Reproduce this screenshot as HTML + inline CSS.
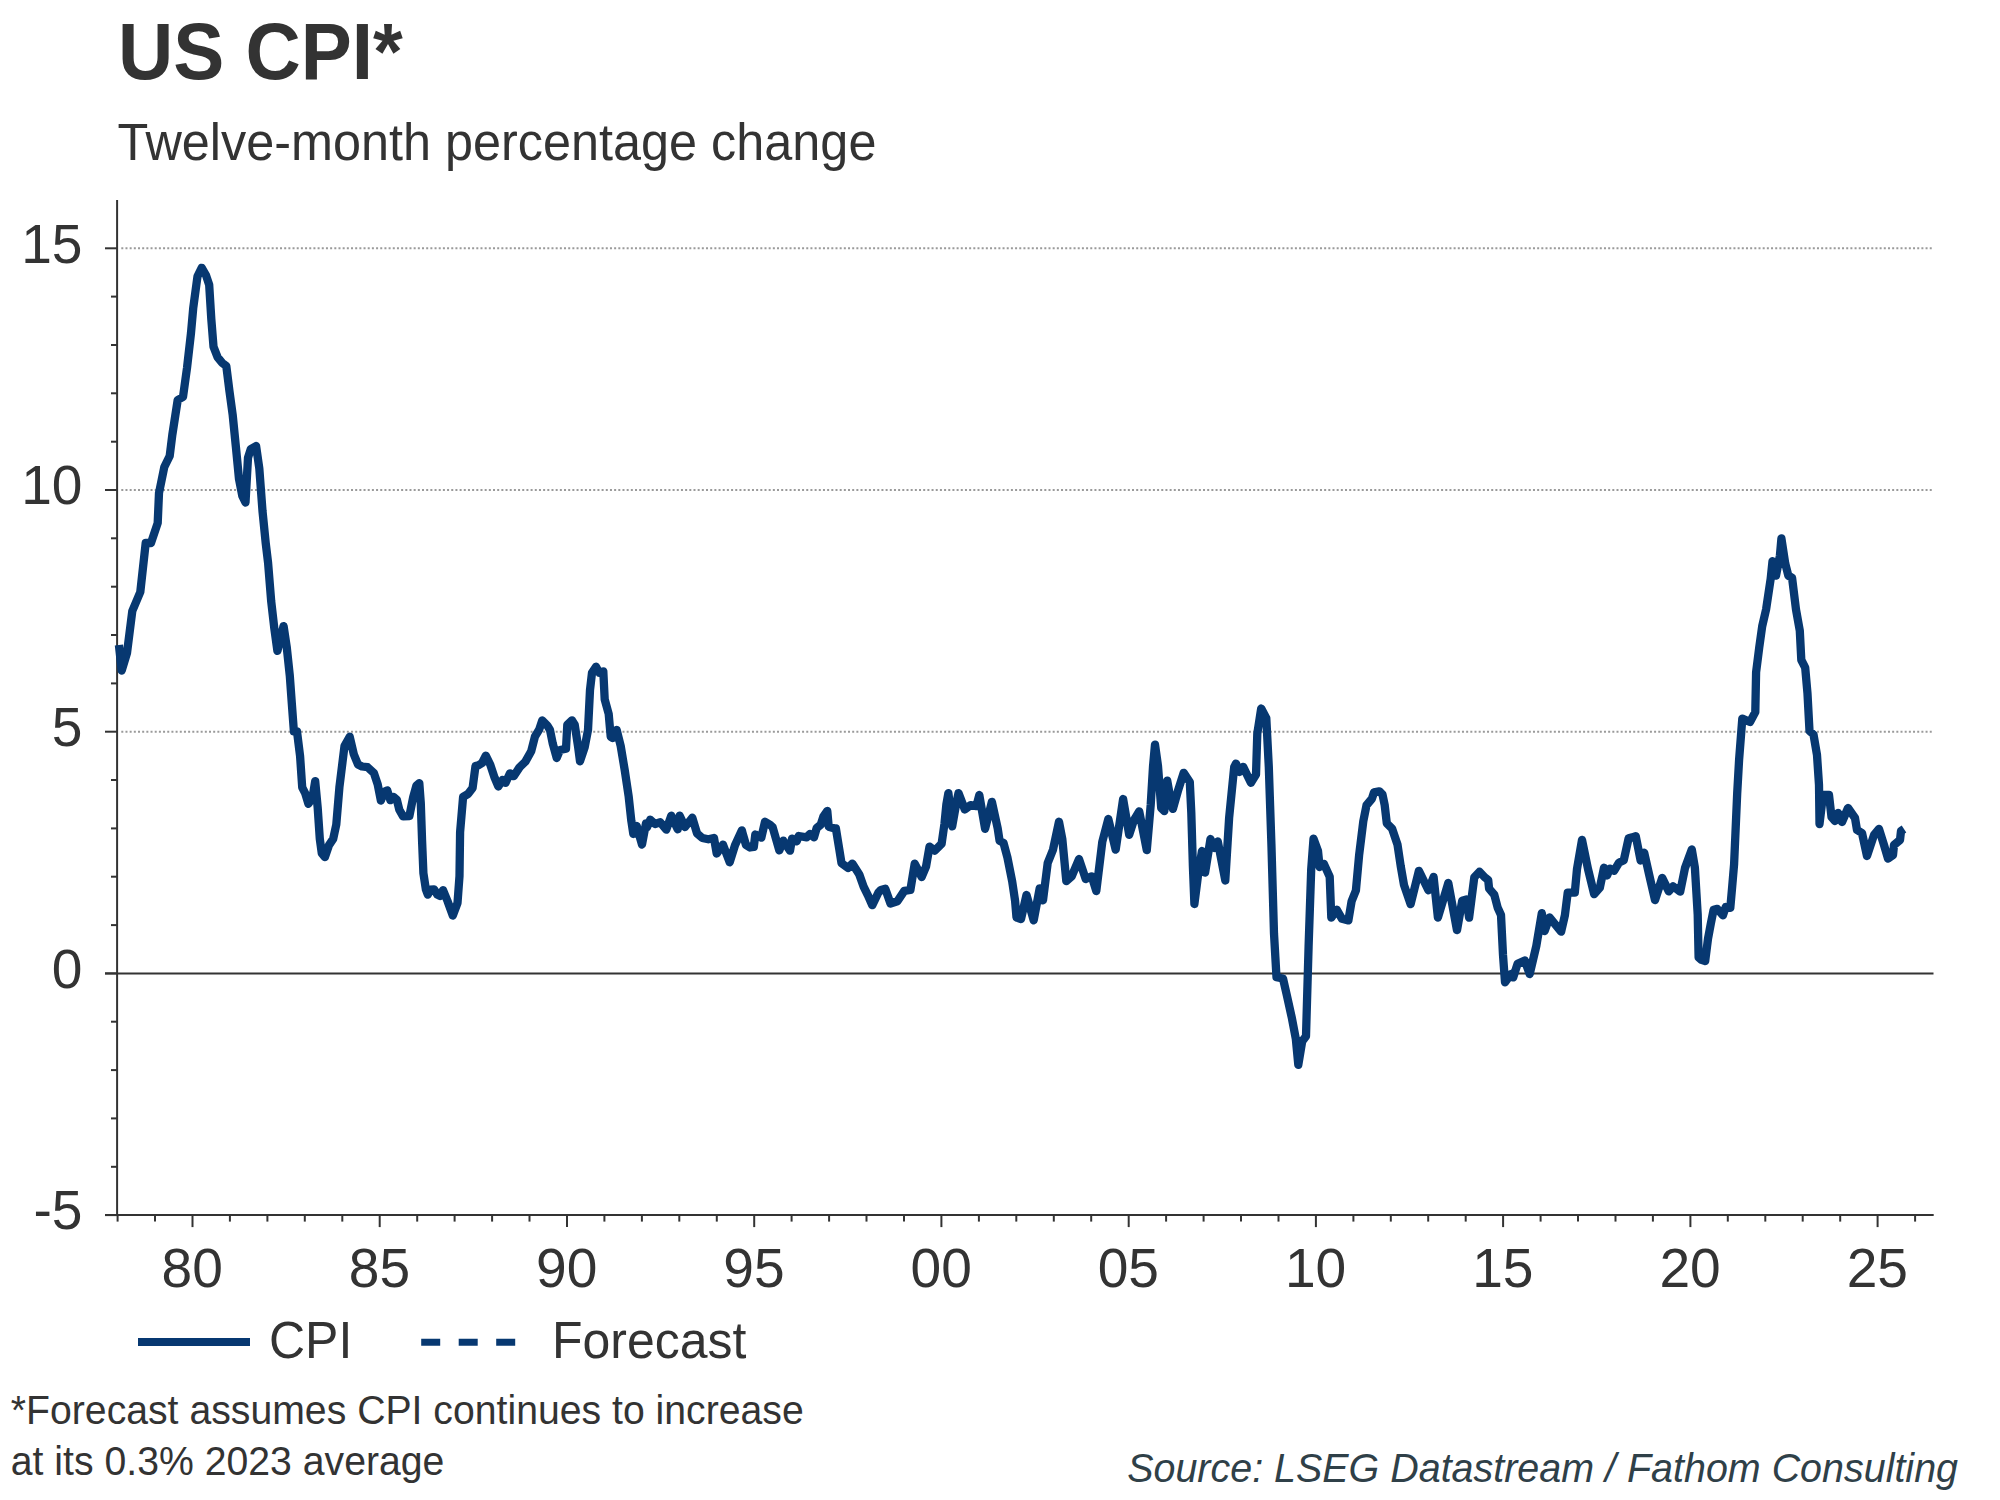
<!DOCTYPE html>
<html><head><meta charset="utf-8"><style>
html,body{margin:0;padding:0;background:#fff;}
body{width:2000px;height:1500px;overflow:hidden;}
svg{display:block;}
text{font-family:"Liberation Sans",Arial,sans-serif;fill:#333333;}
.title{font-size:76.5px;font-weight:bold;}
.sub{font-size:50.4px;}
.ax{font-size:53.5px;}
.lg{font-size:50px;}
.note{font-size:39.2px;}
.src{font-size:39.45px;font-style:italic;fill:#2f4048;}
</style></head><body>
<svg width="2000" height="1500" viewBox="0 0 2000 1500">
<line x1="121.3" y1="731.7" x2="1932.5" y2="731.7" stroke="#9a9a9a" stroke-width="2" stroke-dasharray="2 2.17654"/>
<line x1="121.3" y1="490.0" x2="1932.5" y2="490.0" stroke="#9a9a9a" stroke-width="2" stroke-dasharray="2 2.17654"/>
<line x1="121.3" y1="248.3" x2="1932.5" y2="248.3" stroke="#9a9a9a" stroke-width="2" stroke-dasharray="2 2.17654"/>
<line x1="105" y1="973.4" x2="1933.5" y2="973.4" stroke="#333333" stroke-width="2"/>
<line x1="117.1" y1="200" x2="117.1" y2="1216.1" stroke="#333333" stroke-width="2"/>
<line x1="105" y1="1215.1" x2="1933.7" y2="1215.1" stroke="#333333" stroke-width="2"/>
<line x1="105" y1="1215.1" x2="117" y2="1215.1" stroke="#333333" stroke-width="2"/>
<line x1="111" y1="1166.8" x2="117" y2="1166.8" stroke="#333333" stroke-width="2"/>
<line x1="111" y1="1118.4" x2="117" y2="1118.4" stroke="#333333" stroke-width="2"/>
<line x1="111" y1="1070.1" x2="117" y2="1070.1" stroke="#333333" stroke-width="2"/>
<line x1="111" y1="1021.7" x2="117" y2="1021.7" stroke="#333333" stroke-width="2"/>
<line x1="105" y1="973.4" x2="117" y2="973.4" stroke="#333333" stroke-width="2"/>
<line x1="111" y1="925.1" x2="117" y2="925.1" stroke="#333333" stroke-width="2"/>
<line x1="111" y1="876.7" x2="117" y2="876.7" stroke="#333333" stroke-width="2"/>
<line x1="111" y1="828.4" x2="117" y2="828.4" stroke="#333333" stroke-width="2"/>
<line x1="111" y1="780.0" x2="117" y2="780.0" stroke="#333333" stroke-width="2"/>
<line x1="105" y1="731.7" x2="117" y2="731.7" stroke="#333333" stroke-width="2"/>
<line x1="111" y1="683.4" x2="117" y2="683.4" stroke="#333333" stroke-width="2"/>
<line x1="111" y1="635.0" x2="117" y2="635.0" stroke="#333333" stroke-width="2"/>
<line x1="111" y1="586.7" x2="117" y2="586.7" stroke="#333333" stroke-width="2"/>
<line x1="111" y1="538.3" x2="117" y2="538.3" stroke="#333333" stroke-width="2"/>
<line x1="105" y1="490.0" x2="117" y2="490.0" stroke="#333333" stroke-width="2"/>
<line x1="111" y1="441.7" x2="117" y2="441.7" stroke="#333333" stroke-width="2"/>
<line x1="111" y1="393.3" x2="117" y2="393.3" stroke="#333333" stroke-width="2"/>
<line x1="111" y1="345.0" x2="117" y2="345.0" stroke="#333333" stroke-width="2"/>
<line x1="111" y1="296.6" x2="117" y2="296.6" stroke="#333333" stroke-width="2"/>
<line x1="105" y1="248.3" x2="117" y2="248.3" stroke="#333333" stroke-width="2"/>
<line x1="117.6" y1="1215.1" x2="117.6" y2="1221.6" stroke="#333333" stroke-width="2"/>
<line x1="155.0" y1="1215.1" x2="155.0" y2="1221.6" stroke="#333333" stroke-width="2"/>
<line x1="192.5" y1="1215.1" x2="192.5" y2="1227.1" stroke="#333333" stroke-width="2"/>
<line x1="229.9" y1="1215.1" x2="229.9" y2="1221.6" stroke="#333333" stroke-width="2"/>
<line x1="267.4" y1="1215.1" x2="267.4" y2="1221.6" stroke="#333333" stroke-width="2"/>
<line x1="304.8" y1="1215.1" x2="304.8" y2="1221.6" stroke="#333333" stroke-width="2"/>
<line x1="342.3" y1="1215.1" x2="342.3" y2="1221.6" stroke="#333333" stroke-width="2"/>
<line x1="379.7" y1="1215.1" x2="379.7" y2="1227.1" stroke="#333333" stroke-width="2"/>
<line x1="417.2" y1="1215.1" x2="417.2" y2="1221.6" stroke="#333333" stroke-width="2"/>
<line x1="454.6" y1="1215.1" x2="454.6" y2="1221.6" stroke="#333333" stroke-width="2"/>
<line x1="492.1" y1="1215.1" x2="492.1" y2="1221.6" stroke="#333333" stroke-width="2"/>
<line x1="529.5" y1="1215.1" x2="529.5" y2="1221.6" stroke="#333333" stroke-width="2"/>
<line x1="567.0" y1="1215.1" x2="567.0" y2="1227.1" stroke="#333333" stroke-width="2"/>
<line x1="604.4" y1="1215.1" x2="604.4" y2="1221.6" stroke="#333333" stroke-width="2"/>
<line x1="641.9" y1="1215.1" x2="641.9" y2="1221.6" stroke="#333333" stroke-width="2"/>
<line x1="679.3" y1="1215.1" x2="679.3" y2="1221.6" stroke="#333333" stroke-width="2"/>
<line x1="716.8" y1="1215.1" x2="716.8" y2="1221.6" stroke="#333333" stroke-width="2"/>
<line x1="754.2" y1="1215.1" x2="754.2" y2="1227.1" stroke="#333333" stroke-width="2"/>
<line x1="791.6" y1="1215.1" x2="791.6" y2="1221.6" stroke="#333333" stroke-width="2"/>
<line x1="829.1" y1="1215.1" x2="829.1" y2="1221.6" stroke="#333333" stroke-width="2"/>
<line x1="866.5" y1="1215.1" x2="866.5" y2="1221.6" stroke="#333333" stroke-width="2"/>
<line x1="904.0" y1="1215.1" x2="904.0" y2="1221.6" stroke="#333333" stroke-width="2"/>
<line x1="941.4" y1="1215.1" x2="941.4" y2="1227.1" stroke="#333333" stroke-width="2"/>
<line x1="978.9" y1="1215.1" x2="978.9" y2="1221.6" stroke="#333333" stroke-width="2"/>
<line x1="1016.3" y1="1215.1" x2="1016.3" y2="1221.6" stroke="#333333" stroke-width="2"/>
<line x1="1053.8" y1="1215.1" x2="1053.8" y2="1221.6" stroke="#333333" stroke-width="2"/>
<line x1="1091.2" y1="1215.1" x2="1091.2" y2="1221.6" stroke="#333333" stroke-width="2"/>
<line x1="1128.7" y1="1215.1" x2="1128.7" y2="1227.1" stroke="#333333" stroke-width="2"/>
<line x1="1166.1" y1="1215.1" x2="1166.1" y2="1221.6" stroke="#333333" stroke-width="2"/>
<line x1="1203.6" y1="1215.1" x2="1203.6" y2="1221.6" stroke="#333333" stroke-width="2"/>
<line x1="1241.0" y1="1215.1" x2="1241.0" y2="1221.6" stroke="#333333" stroke-width="2"/>
<line x1="1278.5" y1="1215.1" x2="1278.5" y2="1221.6" stroke="#333333" stroke-width="2"/>
<line x1="1315.9" y1="1215.1" x2="1315.9" y2="1227.1" stroke="#333333" stroke-width="2"/>
<line x1="1353.4" y1="1215.1" x2="1353.4" y2="1221.6" stroke="#333333" stroke-width="2"/>
<line x1="1390.8" y1="1215.1" x2="1390.8" y2="1221.6" stroke="#333333" stroke-width="2"/>
<line x1="1428.2" y1="1215.1" x2="1428.2" y2="1221.6" stroke="#333333" stroke-width="2"/>
<line x1="1465.7" y1="1215.1" x2="1465.7" y2="1221.6" stroke="#333333" stroke-width="2"/>
<line x1="1503.1" y1="1215.1" x2="1503.1" y2="1227.1" stroke="#333333" stroke-width="2"/>
<line x1="1540.6" y1="1215.1" x2="1540.6" y2="1221.6" stroke="#333333" stroke-width="2"/>
<line x1="1578.0" y1="1215.1" x2="1578.0" y2="1221.6" stroke="#333333" stroke-width="2"/>
<line x1="1615.5" y1="1215.1" x2="1615.5" y2="1221.6" stroke="#333333" stroke-width="2"/>
<line x1="1652.9" y1="1215.1" x2="1652.9" y2="1221.6" stroke="#333333" stroke-width="2"/>
<line x1="1690.4" y1="1215.1" x2="1690.4" y2="1227.1" stroke="#333333" stroke-width="2"/>
<line x1="1727.8" y1="1215.1" x2="1727.8" y2="1221.6" stroke="#333333" stroke-width="2"/>
<line x1="1765.3" y1="1215.1" x2="1765.3" y2="1221.6" stroke="#333333" stroke-width="2"/>
<line x1="1802.7" y1="1215.1" x2="1802.7" y2="1221.6" stroke="#333333" stroke-width="2"/>
<line x1="1840.2" y1="1215.1" x2="1840.2" y2="1221.6" stroke="#333333" stroke-width="2"/>
<line x1="1877.6" y1="1215.1" x2="1877.6" y2="1227.1" stroke="#333333" stroke-width="2"/>
<line x1="1915.1" y1="1215.1" x2="1915.1" y2="1221.6" stroke="#333333" stroke-width="2"/>
<text x="82.50" y="1229.30" text-anchor="end" class="ax" transform="matrix(1.03,0,0,1.045,-2.475,-55.318)">-5</text>
<text x="82.50" y="988.30" text-anchor="end" class="ax" transform="matrix(1.03,0,0,1.045,-2.475,-44.473)">0</text>
<text x="82.50" y="746.30" text-anchor="end" class="ax" transform="matrix(1.03,0,0,1.045,-2.475,-33.583)">5</text>
<text x="82.50" y="504.30" text-anchor="end" class="ax" transform="matrix(1.03,0,0,1.045,-2.475,-22.693)">10</text>
<text x="82.50" y="263.50" text-anchor="end" class="ax" transform="matrix(1.03,0,0,1.045,-2.475,-11.857)">15</text>
<text x="192.19" y="1287.40" text-anchor="middle" class="ax" transform="matrix(1.03,0,0,1.045,-5.766,-57.933)">80</text>
<text x="379.43" y="1287.40" text-anchor="middle" class="ax" transform="matrix(1.03,0,0,1.045,-11.383,-57.933)">85</text>
<text x="566.66" y="1287.40" text-anchor="middle" class="ax" transform="matrix(1.03,0,0,1.045,-17.000,-57.933)">90</text>
<text x="753.90" y="1287.40" text-anchor="middle" class="ax" transform="matrix(1.03,0,0,1.045,-22.617,-57.933)">95</text>
<text x="941.13" y="1287.40" text-anchor="middle" class="ax" transform="matrix(1.03,0,0,1.045,-28.234,-57.933)">00</text>
<text x="1128.37" y="1287.40" text-anchor="middle" class="ax" transform="matrix(1.03,0,0,1.045,-33.851,-57.933)">05</text>
<text x="1315.60" y="1287.40" text-anchor="middle" class="ax" transform="matrix(1.03,0,0,1.045,-39.468,-57.933)">10</text>
<text x="1502.84" y="1287.40" text-anchor="middle" class="ax" transform="matrix(1.03,0,0,1.045,-45.085,-57.933)">15</text>
<text x="1690.07" y="1287.40" text-anchor="middle" class="ax" transform="matrix(1.03,0,0,1.045,-50.702,-57.933)">20</text>
<text x="1877.31" y="1287.40" text-anchor="middle" class="ax" transform="matrix(1.03,0,0,1.045,-56.319,-57.933)">25</text>
<path d="M118.9,645.0 L121.7,670.5 L127.0,653.0 L132.3,611.0 L140.3,592.0 L145.7,543.0 L151.0,543.0 L157.7,523.0 L159.0,493.0 L164.3,467.0 L169.7,456.0 L172.3,435.0 L177.7,400.0 L183.0,397.0 L187.0,368.0 L191.0,333.0 L193.2,308.3 L197.5,276.3 L201.7,267.8 L206.0,275.3 L209.2,284.9 L211.3,319.0 L213.5,346.7 L217.7,357.4 L222.0,362.7 L226.3,366.0 L229.5,391.5 L232.7,415.0 L235.9,447.0 L239.0,479.0 L242.3,496.0 L245.5,502.5 L248.0,457.7 L250.8,449.0 L256.1,446.0 L259.3,468.3 L262.5,511.0 L265.7,543.0 L268.1,563.0 L271.2,601.3 L274.3,628.2 L277.4,650.9 L280.5,638.5 L283.6,626.1 L286.7,646.8 L289.8,675.7 L291.9,704.6 L293.9,731.5 L297.0,731.5 L300.1,756.3 L302.2,787.3 L305.3,793.5 L308.4,803.8 L312.5,797.6 L315.2,781.1 L317.7,807.9 L319.8,838.9 L321.8,853.4 L324.9,857.1 L329.0,845.1 L333.2,838.9 L336.3,824.5 L339.4,787.3 L344.5,746.0 L349.7,736.7 L353.8,754.2 L358.0,764.5 L362.0,766.5 L367.6,767.2 L373.9,773.0 L377.7,784.4 L380.9,800.6 L384.1,792.0 L387.2,790.3 L390.4,800.2 L393.6,797.0 L396.8,799.6 L399.3,809.7 L403.1,816.4 L409.4,816.0 L413.2,797.0 L416.4,785.6 L419.3,783.1 L420.8,803.4 L422.1,841.4 L423.4,873.1 L425.9,889.6 L427.8,894.6 L430.3,889.6 L434.1,889.3 L437.3,894.6 L439.8,895.9 L443.0,890.2 L447.5,901.0 L452.8,915.5 L457.5,903.0 L459.5,876.0 L460.1,832.0 L463.1,796.8 L468.2,793.8 L472.6,788.0 L475.5,766.0 L478.5,765.2 L482.1,763.0 L485.8,755.7 L490.2,764.5 L494.6,777.7 L498.3,786.5 L502.7,779.9 L505.6,782.8 L510.0,773.3 L513.7,776.2 L519.5,767.4 L525.4,761.6 L531.2,751.3 L534.9,736.7 L539.3,729.3 L542.2,720.5 L547.4,725.7 L550.0,730.0 L552.7,743.3 L556.7,758.0 L560.0,750.0 L566.0,748.7 L567.3,724.7 L572.0,720.3 L574.7,724.7 L578.0,746.0 L580.0,761.3 L584.7,747.3 L588.0,730.0 L590.0,690.0 L592.0,672.7 L596.0,666.7 L599.3,672.7 L603.3,671.3 L604.7,699.3 L608.7,714.0 L610.7,736.7 L612.7,738.0 L616.7,730.0 L620.7,746.0 L624.7,770.0 L628.7,796.7 L631.3,820.7 L633.3,834.0 L636.7,826.0 L642.0,844.5 L646.0,823.3 L647.0,827.3 L650.3,819.7 L655.0,824.0 L660.3,822.3 L666.3,829.7 L671.3,815.7 L677.7,829.3 L679.7,815.7 L685.0,827.0 L692.3,817.7 L697.0,833.3 L702.3,838.0 L708.3,839.3 L714.0,838.0 L716.7,853.5 L723.0,844.7 L729.7,862.3 L735.0,845.3 L741.9,830.3 L742.5,833.0 L746.0,845.0 L750.0,847.5 L753.8,847.0 L755.3,834.5 L761.3,837.7 L765.0,821.7 L770.0,824.7 L772.7,827.3 L779.3,850.3 L783.3,840.7 L790.0,850.7 L792.0,838.7 L796.7,841.3 L798.7,836.0 L806.7,837.3 L810.0,834.0 L814.0,837.3 L816.7,828.0 L820.7,824.7 L823.3,816.7 L827.3,811.0 L828.7,826.7 L834.0,828.3 L835.9,828.5 L839.3,849.3 L841.5,863.2 L848.0,868.0 L852.3,863.6 L859.3,874.5 L863.6,886.6 L867.9,895.3 L872.3,905.2 L878.3,892.7 L880.9,890.0 L885.3,888.8 L890.5,903.5 L897.4,901.3 L904.3,890.9 L910.4,890.0 L914.7,863.6 L921.7,877.0 L926.0,866.7 L929.5,846.7 L934.8,850.6 L941.6,843.8 L944.5,823.5 L946.4,804.2 L948.4,793.1 L952.2,826.4 L956.1,804.2 L958.5,793.1 L964.8,809.5 L970.6,805.1 L976.4,806.1 L979.3,795.0 L985.1,828.8 L991.9,801.8 L997.7,828.4 L999.6,840.9 L1003.5,842.9 L1007.4,857.4 L1012.2,881.5 L1015.1,900.9 L1016.5,917.5 L1021.0,919.0 L1026.5,895.0 L1033.7,920.3 L1039.7,888.3 L1043.0,900.3 L1047.7,863.0 L1053.0,849.7 L1059.0,821.7 L1062.3,839.0 L1066.3,881.0 L1071.7,876.3 L1079.0,859.0 L1085.7,879.0 L1091.7,876.3 L1096.3,891.0 L1102.3,841.7 L1108.3,819.0 L1115.7,849.7 L1123.1,799.0 L1129.2,834.8 L1133.8,820.4 L1139.2,811.3 L1146.8,850.1 L1150.7,805.0 L1153.0,766.7 L1155.0,744.6 L1158.0,766.0 L1161.2,808.0 L1164.3,811.0 L1167.2,780.6 L1170.5,799.0 L1172.9,808.9 L1178.3,789.7 L1183.7,772.8 L1189.8,782.0 L1191.3,812.7 L1192.9,866.4 L1194.4,904.0 L1198.2,874.0 L1202.0,851.0 L1205.1,872.7 L1210.5,839.0 L1214.3,848.0 L1217.8,841.5 L1225.3,880.5 L1229.1,818.2 L1234.2,766.9 L1236.0,763.6 L1239.4,772.0 L1243.2,766.9 L1250.9,782.8 L1256.0,774.6 L1257.3,733.6 L1261.2,708.5 L1266.3,718.2 L1268.8,766.9 L1271.4,843.8 L1274.0,933.6 L1276.5,977.2 L1283.0,978.5 L1286.8,995.1 L1291.9,1018.2 L1295.8,1038.7 L1298.3,1064.9 L1302.2,1041.3 L1306.0,1036.2 L1308.6,946.4 L1311.2,869.5 L1313.5,838.7 L1318.0,851.0 L1319.6,867.0 L1323.9,863.9 L1329.7,876.7 L1331.3,917.7 L1336.7,909.7 L1342.0,918.8 L1348.4,920.4 L1351.6,901.2 L1355.9,890.5 L1359.1,855.3 L1363.3,821.2 L1366.5,805.2 L1371.9,798.8 L1374.0,792.4 L1379.3,791.3 L1382.5,794.5 L1384.7,805.2 L1386.8,823.3 L1392.1,828.7 L1397.5,844.7 L1400.7,866.0 L1404.0,885.0 L1410.6,904.2 L1418.9,870.8 L1428.4,890.3 L1433.6,876.9 L1437.9,917.6 L1448.3,883.0 L1457.0,930.2 L1462.2,900.7 L1466.5,899.4 L1469.1,917.6 L1474.3,877.3 L1479.5,871.7 L1484.7,877.3 L1488.2,880.0 L1489.1,888.6 L1494.3,894.7 L1497.7,907.7 L1501.0,915.0 L1503.0,955.0 L1505.0,982.3 L1511.0,974.0 L1513.2,977.4 L1517.6,963.8 L1524.8,960.5 L1529.7,974.0 L1536.3,946.0 L1541.8,913.2 L1544.6,931.2 L1549.5,917.4 L1561.1,931.7 L1564.9,915.2 L1567.7,892.7 L1574.8,892.7 L1577.0,869.0 L1582.0,839.9 L1588.0,869.0 L1594.1,894.1 L1599.8,887.8 L1604.0,867.7 L1607.0,875.5 L1610.0,868.6 L1614.2,870.7 L1619.0,862.6 L1623.8,860.2 L1628.6,838.3 L1632.2,837.4 L1635.8,836.2 L1640.6,860.5 L1644.2,852.7 L1649.0,874.0 L1655.0,900.1 L1662.2,877.9 L1668.8,891.4 L1673.0,886.3 L1680.2,891.7 L1685.0,868.0 L1691.8,849.5 L1694.9,867.8 L1697.7,914.4 L1698.6,957.3 L1701.4,959.8 L1705.2,961.0 L1708.0,938.7 L1710.8,923.8 L1713.6,909.8 L1717.3,908.9 L1722.9,915.4 L1725.7,907.0 L1730.3,907.9 L1732.2,886.5 L1734.1,864.1 L1737.2,793.2 L1739.1,759.7 L1742.3,718.6 L1750.0,722.0 L1755.3,712.1 L1756.1,672.2 L1759.2,647.7 L1762.2,626.2 L1766.1,609.4 L1770.7,578.7 L1772.5,561.2 L1776.0,575.6 L1779.9,555.7 L1781.4,538.5 L1785.2,563.3 L1788.3,575.6 L1792.1,577.9 L1796.0,609.4 L1799.8,630.8 L1801.3,660.0 L1805.2,667.6 L1807.5,693.7 L1809.5,731.0 L1813.5,734.5 L1817.0,755.0 L1819.0,785.0 L1819.5,824.0 L1823.0,795.0 L1829.0,795.0 L1831.5,817.0 L1835.0,821.0 L1838.0,813.0 L1842.0,822.0 L1848.0,808.0 L1855.0,818.0 L1857.0,830.0 L1862.0,833.0 L1867.0,856.0 L1874.0,835.0 L1879.0,829.0 L1884.0,845.0 L1888.0,858.5 L1893.0,855.0 L1894.0,845.0 L1900.0,840.0 L1901.0,831.0 L1904.0,829.0" fill="none" stroke="#073871" stroke-width="8.3" stroke-linejoin="round" stroke-linecap="butt"/>
<line x1="138" y1="1342" x2="250" y2="1342" stroke="#073871" stroke-width="8"/>
<text x="269.00" y="1358.00" class="lg" transform="matrix(1.0,0,0,1.025,0.000,-33.950)">CPI</text>
<line x1="421.2" y1="1342.2" x2="515.2" y2="1342.2" stroke="#073871" stroke-width="7" stroke-dasharray="19 18.5"/>
<text x="552.00" y="1358.00" class="lg" transform="matrix(1.0,0,0,1.025,0.000,-33.950)">Forecast</text>
<text x="118.00" y="78.90" class="title" transform="matrix(1.0,0,0,1.05,0.000,-3.945)">US CPI*</text>
<text x="117.40" y="160.00" class="sub" transform="matrix(1.0,0,0,1.025,0.000,-4.000)">Twelve-month percentage change</text>
<text x="10.80" y="1423.60" class="note" transform="matrix(1.0,0,0,1.025,0.000,-35.590)">*Forecast assumes CPI continues to increase</text>
<text x="10.80" y="1475.20" class="note" transform="matrix(1.0,0,0,1.025,0.000,-36.880)">at its 0.3% 2023 average</text>
<text x="1958.00" y="1481.70" text-anchor="end" class="src" transform="matrix(1.0,0,0,1.025,0.000,-37.042)">Source: LSEG Datastream / Fathom Consulting</text>
</svg>
</body></html>
